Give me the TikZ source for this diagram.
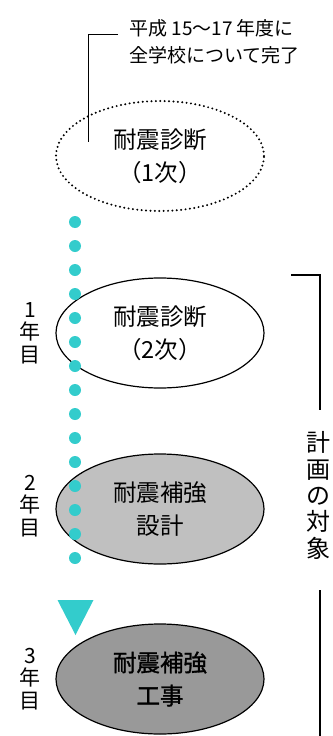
\documentclass[tikz,border=0pt]{standalone}
\usepackage{fontspec}
\setmainfont{Noto Sans CJK JP}
\newfontfamily\jpbold[FakeBold=1.3]{Noto Sans CJK JP}
\usetikzlibrary{shapes.geometric}
\definecolor{dotcyan}{RGB}{51,204,204}
\definecolor{lightg}{RGB}{192,192,192}
\definecolor{darkg}{RGB}{153,153,153}
\tikzset{
  stage/.style={ellipse, draw=black, line width=1.2bp, minimum width=208bp, minimum height=110bp,
    inner sep=0pt, align=center, font=\fontsize{23.5bp}{33bp}\selectfont},
  yearlbl/.style={align=center, inner sep=0pt, font=\fontsize{21bp}{22.5bp}\selectfont},
  notetext/.style={align=left, inner sep=0pt, font=\fontsize{19bp}{27bp}\selectfont},
  dotline/.style={dotcyan, line width=12bp, line cap=round, dash pattern=on 0bp off 24bp},
}
\begin{document}
\begin{tikzpicture}[x=1bp,y=-1bp]
\useasboundingbox (0,0) rectangle (332,736);
% stages
\node[stage, draw=none] (e1) at (160,156) {耐震診断\\（1次）};
\draw[line width=2.2bp, line cap=round, dash pattern=on 0bp off 4.4bp] (e1.center) ellipse [x radius=104bp, y radius=55bp];
\node[stage] (e2) at (160,333) {耐震診断\\（2次）};
\node[stage, fill=lightg] (e3) at (160,509) {耐震補強\\設計};
\node[stage, fill=darkg, font=\fontsize{23.5bp}{33bp}\jpbold] (e4) at (160,679) {耐震補強\\工事};
% dotted arrow
\coordinate (dtop) at (75,222);
\coordinate (dbot) at (75,582);
\draw[dotline] (dtop) -- (dbot);
\coordinate (tipl) at (57.5,600);
\coordinate (tipr) at (93.5,600);
\coordinate (tipb) at (75.5,635);
\fill[dotcyan] (tipl) -- (tipr) -- (tipb) -- cycle;
% callout
\node[notetext, anchor=west] (note) at (129,41.5) {平成 15〜17 年度に\\全学校について完了};
\coordinate (nc) at (118,35);
\coordinate (nb) at (88,35);
\coordinate (ne) at (88,142);
\draw[line width=1bp] (nc) -- (nb) -- (ne);
% year labels
\node[yearlbl] (y1) at (30,333) {1\\年\\目};
\node[yearlbl] (y2) at (30,506) {2\\年\\目};
\node[yearlbl] (y3) at (30,679) {3\\年\\目};
% bracket
\node[align=center, inner sep=0pt, font=\fontsize{24bp}{26.3bp}\selectfont] (plan) at (318,495.5) {計\\画\\の\\対\\象};
\coordinate (b0) at (291,275);
\coordinate (b1) at (320,275);
\coordinate (b2) at (320,410);
\coordinate (b3) at (320,590);
\coordinate (b4) at (320,736);
\draw[line width=2bp] (b0) -- (b1) -- (b2);
\draw[line width=2bp] (b3) -- (b4);
\end{tikzpicture}
\end{document}
